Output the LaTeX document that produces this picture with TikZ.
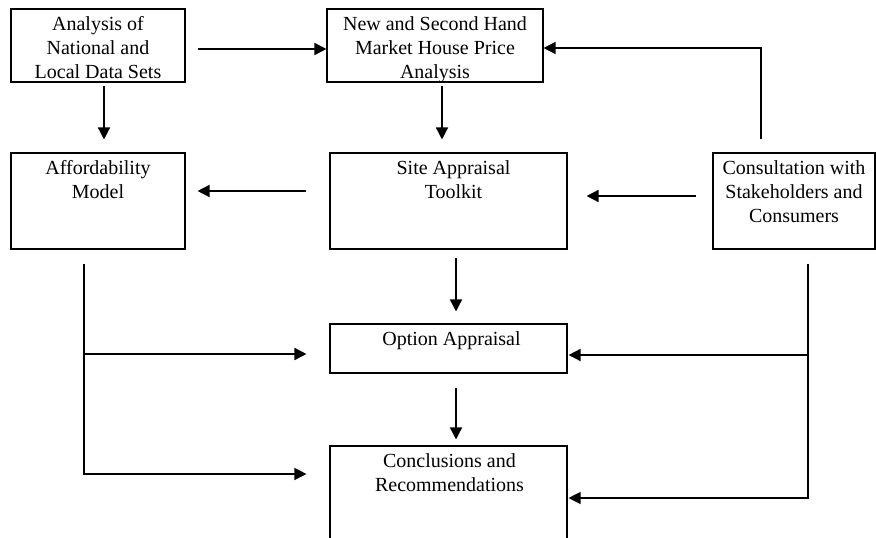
\documentclass[tikz,border=0pt]{standalone}
\usepackage{fontspec}
\setmainfont{Liberation Serif}
\usetikzlibrary{arrows.meta,calc}
\begin{document}
\begin{tikzpicture}[x=1pt,y=-1pt,
  box/.style={draw,line width=1.1pt,inner sep=0pt},
  lbl/.style={anchor=north,align=center,inner sep=0pt,yshift=-8pt,
    font=\fontsize{20}{24}\selectfont},
  arr/.style={line width=1.5pt,-{Triangle[length=12pt,width=12pt]}},
  thinarr/.style={line width=1.2pt,-{Triangle[length=12pt,width=12pt]}}
]
\clip (0,0) rectangle (876,538);
\fill[white] (0,0) rectangle (876,538);
\node[box,minimum width=174pt,minimum height=73pt,
  label={[lbl]north:Analysis of\\National and\\Local Data Sets}] (A) at (98,45.5) {};
\node[box,minimum width=216pt,minimum height=73pt,
  label={[lbl]north:New and Second Hand\\Market House Price\\Analysis}] (N) at (435,45.5) {};
\node[box,minimum width=174pt,minimum height=96pt,
  label={[lbl]north:Affordability\\Model}] (Aff) at (98,201) {};
\node[box,minimum width=237pt,minimum height=96pt,
  label={[lbl,xshift=5pt]north:Site Appraisal\\Toolkit}] (Site) at (448.5,201) {};
\node[box,minimum width=162pt,minimum height=96pt,
  label={[lbl]north:Consultation with\\Stakeholders and\\Consumers}] (Cons) at (794,201) {};
\node[box,minimum width=237pt,minimum height=49pt,
  label={[lbl,xshift=3pt]north:Option Appraisal}] (Opt) at (448.5,348.5) {};
\node[box,minimum width=237pt,minimum height=100pt,
  label={[lbl,xshift=1pt]north:Conclusions and\\Recommendations}] (Conc) at (448.5,496) {};

\draw[arr] ($(A.east)+(12,3.5)$) -- ($(N.west)+(0,3.5)$);
\draw[arr] ($(A.south)+(6,3)$) -- ($(Aff.north)+(6,-13)$);
\draw[arr] ($(N.south)+(7,3)$) -- ($(Site.north)+(-6.5,-13)$);
\draw[thinarr] ($(Cons.north)+(-33,-13)$) |- ($(N.east)+(0,2.5)$);
\draw[arr] ($(Site.west)+(-23,-10)$) -- ($(Aff.east)+(12,-10)$);
\draw[arr] ($(Cons.west)+(-16,-5)$) -- ($(Site.east)+(19,-5)$);
\draw[arr] ($(Site.south)+(7.5,8)$) -- ($(Opt.north)+(7.5,-12)$);
\draw[arr] ($(Opt.south)+(7.5,14)$) -- ($(Conc.north)+(7.5,-6)$);

\coordinate (L1) at ($(Aff.south)+(-14,14)$);
\draw[thinarr] (L1) |- ($(Conc.west)+(-23,-22)$);
\draw[arr] ($(L1 |- Opt.west)+(0,5.5)$) -- ($(Opt.west)+(-23,5.5)$);

\coordinate (R1) at ($(Cons.south)+(14,14)$);
\draw[thinarr] (R1) |- ($(Conc.east)+(1,2)$);
\draw[arr] ($(R1 |- Opt.east)+(0,6.5)$) -- ($(Opt.east)+(1,6.5)$);
\end{tikzpicture}
\end{document}
